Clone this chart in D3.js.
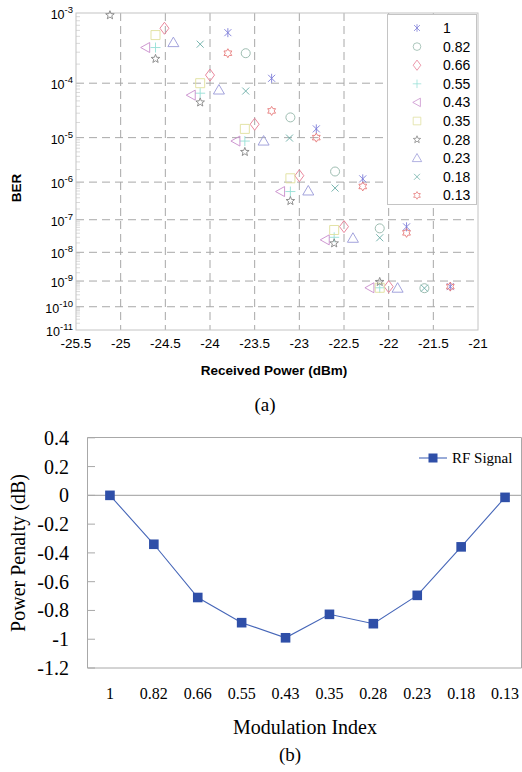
<!DOCTYPE html>
<html><head><meta charset="utf-8">
<script src="https://cdn.jsdelivr.net/npm/d3@7"></script>
<style>body{margin:0;background:#fff}</style>
</head><body><svg id="c" width="522" height="772" xmlns="http://www.w3.org/2000/svg"></svg>
<script>
// ---------- (a) BER vs received power ----------
const modIndex = ["1","0.82","0.66","0.55","0.43","0.35","0.28","0.23","0.18","0.13"];
const pw_100 = [-23.80,-23.31,-22.81,-22.29,-21.80,-21.31];
const ber_100 = [5.6e-4,1.2e-4,1.5e-5,1.2e-6,6.2e-8,6.2e-10];
const pw_082 = [-23.60,-23.10,-22.60,-22.10,-21.60];
const ber_082 = [2.9e-4,2.5e-5,1.8e-6,5.6e-8,5.4e-10];
const pw_066 = [-24.51,-24.00,-23.50,-23.00,-22.50,-22.00];
const ber_066 = [6.4e-4,1.35e-4,1.85e-5,1.43e-6,6.3e-8,6.2e-10];
const pw_055 = [-24.61,-24.11,-23.61,-23.10,-22.61,-22.10];
const ber_055 = [3.5e-4,6.8e-5,8.5e-6,5.8e-7,3.0e-8,5.6e-10];
const pw_043 = [-24.72,-24.21,-23.71,-23.21,-22.71,-22.21];
const ber_043 = [3.5e-4,6.3e-5,8.5e-6,5.8e-7,2.5e-8,5.6e-10];
const pw_035 = [-24.61,-24.11,-23.61,-23.10,-22.61,-22.10];
const ber_035 = [5.2e-4,1.0e-4,1.5e-5,1.24e-6,5.0e-8,5.6e-10];
const pw_028 = [-25.12,-24.61,-24.11,-23.61,-23.10,-22.61,-22.10];
const ber_028 = [9.4e-4,2.4e-4,4.7e-5,5.0e-6,3.3e-7,1.95e-8,9.3e-10];
const pw_023 = [-24.41,-23.90,-23.40,-22.90,-22.40,-21.90];
const ber_023 = [4.1e-4,7.7e-5,8.5e-6,6.0e-7,2.8e-8,5.4e-10];
const pw_018 = [-24.11,-23.60,-23.11,-22.60,-22.10,-21.60];
const ber_018 = [3.9e-4,7.4e-5,9.8e-6,7.1e-7,2.9e-8,5.4e-10];
const pw_013 = [-23.80,-23.31,-22.81,-22.29,-21.80,-21.31];
const ber_013 = [2.9e-4,3.3e-5,1.0e-5,7.8e-7,4.1e-8,6.2e-10];
const seriesPower = [pw_100,pw_082,pw_066,pw_055,pw_043,pw_035,pw_028,pw_023,pw_018,pw_013];
const seriesBER = [ber_100,ber_082,ber_066,ber_055,ber_043,ber_035,ber_028,ber_023,ber_018,ber_013];
const markerTypes = ["asterisk","circle","diamond","plus","triLeft","square","star5","triUp","x","star6"];
const seriesColors = ["#7c7cd8","#93b5a8","#e67a92","#96e0d6","#c88ccc","#e0e09c","#858585","#9999d8","#6aada6","#e67a7a"];
const xTicksA = [-25.5,-25,-24.5,-24,-23.5,-23,-22.5,-22,-21.5,-21];
const yExpA = [3,4,5,6,7,8,9,10,11];

// ---------- (b) power penalty ----------
const penalty = [0,-0.34,-0.71,-0.885,-0.99,-0.827,-0.892,-0.695,-0.358,-0.014];
const yTicksB = [0.4,0.2,0,-0.2,-0.4,-0.6,-0.8,-1,-1.2];

const svg = d3.select("#c");
const sans = "'Liberation Sans', Arial, Helvetica, sans-serif";
const serif = "'Liberation Serif', 'Times New Roman', serif";

function markerPath(t){
  const p = d3.path();
  switch(t){
    case "asterisk": return "M-3.5,-3.5L3.5,3.5M-3.5,3.5L3.5,-3.5M0,-4.5L0,4.5";
    case "circle": p.arc(0,0,4.5,0,2*Math.PI); return p.toString();
    case "diamond": return "M0,-6L4.5,0L0,6L-4.5,0Z";
    case "plus": return "M-5,0L5,0M0,-5L0,5";
    case "triLeft": return "M-5,0L4,-5L4,5Z";
    case "square": return "M-4.5,-4.5h9v9h-9Z";
    case "triUp": return "M0,-5.5L5.5,4L-5.5,4Z";
    case "x": return "M-3.5,-3.5L3.5,3.5M-3.5,3.5L3.5,-3.5";
    case "star5": case "star6": {
      const n = t==="star5"?5:6, ro = 4.5, ri = t==="star5"?1.9:2.6;
      const pts = [];
      for(let i=0;i<2*n;i++){
        const a = -Math.PI/2 + i*Math.PI/n, r = i%2?ri:ro;
        pts.push([r*Math.cos(a), r*Math.sin(a)]);
      }
      return "M"+pts.map(q=>q[0].toFixed(2)+","+q[1].toFixed(2)).join("L")+"Z";
    }
  }
}

// ===== chart (a) =====
const xA = d3.scaleLinear().domain([-25.5,-21]).range([76,478]);
const yT = d3.scaleLinear().domain([Math.log10(3),Math.log10(11)]).range([13,330]);
const yA = b => yT(Math.log10(-Math.log10(b)));

const gA = svg.append("g");
for(let e=4;e<=11;e++){
  for(let k=2;k<=9;k++){
    const v = k*Math.pow(10,-e);
    gA.append("line").attr("x1",76).attr("x2",80).attr("y1",yA(v)).attr("y2",yA(v))
      .attr("stroke","#d0d0d0").attr("stroke-width",0.8);
  }
}
xTicksA.slice(1,-1).forEach(v=>{
  gA.append("line").attr("x1",xA(v)).attr("x2",xA(v)).attr("y1",13).attr("y2",330)
    .attr("stroke","#a8a8a8").attr("stroke-dasharray","8,5");
});
yExpA.slice(1,-1).forEach(e=>{
  const y = yA(Math.pow(10,-e));
  gA.append("line").attr("x1",76).attr("x2",478).attr("y1",y).attr("y2",y)
    .attr("stroke","#a8a8a8").attr("stroke-dasharray","8,5");
});
gA.append("rect").attr("x",76).attr("y",13).attr("width",402).attr("height",317)
  .attr("fill","none").attr("stroke","#c4c4c4");
yExpA.forEach(e=>{
  const y = yA(Math.pow(10,-e));
  const t = gA.append("text").attr("x",73).attr("y",y+6).attr("text-anchor","end")
    .attr("font-family",sans).attr("font-size",12.5).attr("fill","#000");
  t.append("tspan").text("10");
  t.append("tspan").attr("dy",-6).attr("font-size",9.5).text("-"+e);
});
xTicksA.forEach(v=>{
  gA.append("text").attr("x",xA(v)).attr("y",348).attr("text-anchor","middle")
    .attr("font-family",sans).attr("font-size",13.5).attr("fill","#000").text(v);
});
gA.append("text").attr("x",274).attr("y",375).attr("text-anchor","middle")
  .attr("font-family",sans).attr("font-size",13.5).attr("font-weight","bold").text("Received Power (dBm)");
gA.append("text").attr("transform","translate(21,188) rotate(-90)").attr("text-anchor","middle")
  .attr("font-family",sans).attr("font-size",13.5).attr("font-weight","bold").text("BER");
seriesPower.forEach((pw,i)=>{
  gA.append("g").selectAll("path").data(pw.map((p,j)=>[p,seriesBER[i][j]])).join("path")
    .attr("d",markerPath(markerTypes[i]))
    .attr("transform",d=>`translate(${xA(d[0])},${yA(d[1])})`)
    .attr("fill","none").attr("stroke",seriesColors[i]).attr("stroke-width",0.9);
});
const lg = gA.append("g");
lg.append("rect").attr("x",387.5).attr("y",14.5).attr("width",89).attr("height",190)
  .attr("fill","#fff").attr("stroke","#c4c4c4");
modIndex.forEach((m,i)=>{
  const y = 28 + i*18.6;
  lg.append("path").attr("d",markerPath(markerTypes[i])).attr("transform",`translate(417,${y}) scale(0.85)`)
    .attr("fill","none").attr("stroke",seriesColors[i]).attr("stroke-width",0.9);
  lg.append("text").attr("x",443).attr("y",y+5).attr("font-family",sans).attr("font-size",14)
    .attr("fill","#000").text(m);
});
svg.append("text").attr("x",265).attr("y",411).attr("text-anchor","middle")
  .attr("font-family",serif).attr("font-size",19).text("(a)");

// ===== chart (b) =====
const xB = d3.scaleBand().domain(modIndex).range([88,527]);
const yB = d3.scaleLinear().domain([-1.2,0.4]).range([668,437.8]);
const gB = svg.append("g");
gB.append("path").attr("d",`M87.5,437.5H521.5V668H87.5Z`).attr("fill","none").attr("stroke","#a8a8a8");
gB.append("line").attr("x1",87).attr("x2",522).attr("y1",yB(0)).attr("y2",yB(0)).attr("stroke","#b0b0b0").attr("stroke-width",1.2);
yTicksB.forEach(v=>{
  gB.append("line").attr("x1",87.5).attr("x2",95).attr("y1",yB(v)).attr("y2",yB(v)).attr("stroke","#a8a8a8");
  gB.append("text").attr("x",69).attr("y",yB(v)+7).attr("text-anchor","end")
    .attr("font-family",serif).attr("font-size",20).attr("fill","#000").text(v);
});
modIndex.forEach(m=>{
  gB.append("text").attr("x",xB(m)+xB.bandwidth()/2).attr("y",699).attr("text-anchor","middle")
    .attr("font-family",serif).attr("font-size",16).attr("fill","#000").text(m);
});
const cx = m => xB(m)+xB.bandwidth()/2;
gB.append("path").datum(penalty).attr("d",d3.line().x((d,i)=>cx(modIndex[i])).y(d=>yB(d)))
  .attr("fill","none").attr("stroke","#4666b8").attr("stroke-width",1.1);
gB.selectAll("rect.pt").data(penalty).join("rect").attr("class","pt")
  .attr("x",(d,i)=>cx(modIndex[i])-4.8).attr("y",d=>yB(d)-4.8).attr("width",9.6).attr("height",9.6)
  .attr("fill","#2f4fa8");
gB.append("line").attr("x1",419).attr("x2",447).attr("y1",458).attr("y2",458).attr("stroke","#4666b8").attr("stroke-width",1.1);
gB.append("rect").attr("x",428.5).attr("y",453.5).attr("width",9).attr("height",9).attr("fill","#2f4fa8");
gB.append("text").attr("x",452).attr("y",463).attr("font-family",serif).attr("font-size",15).text("RF Signal");
gB.append("text").attr("x",305).attr("y",734).attr("text-anchor","middle")
  .attr("font-family",serif).attr("font-size",20).text("Modulation Index");
gB.append("text").attr("transform","translate(25,553) rotate(-90)").attr("text-anchor","middle")
  .attr("font-family",serif).attr("font-size",20).text("Power Penalty (dB)");
svg.append("text").attr("x",290).attr("y",761).attr("text-anchor","middle")
  .attr("font-family",serif).attr("font-size",19).text("(b)");
</script></body></html>
